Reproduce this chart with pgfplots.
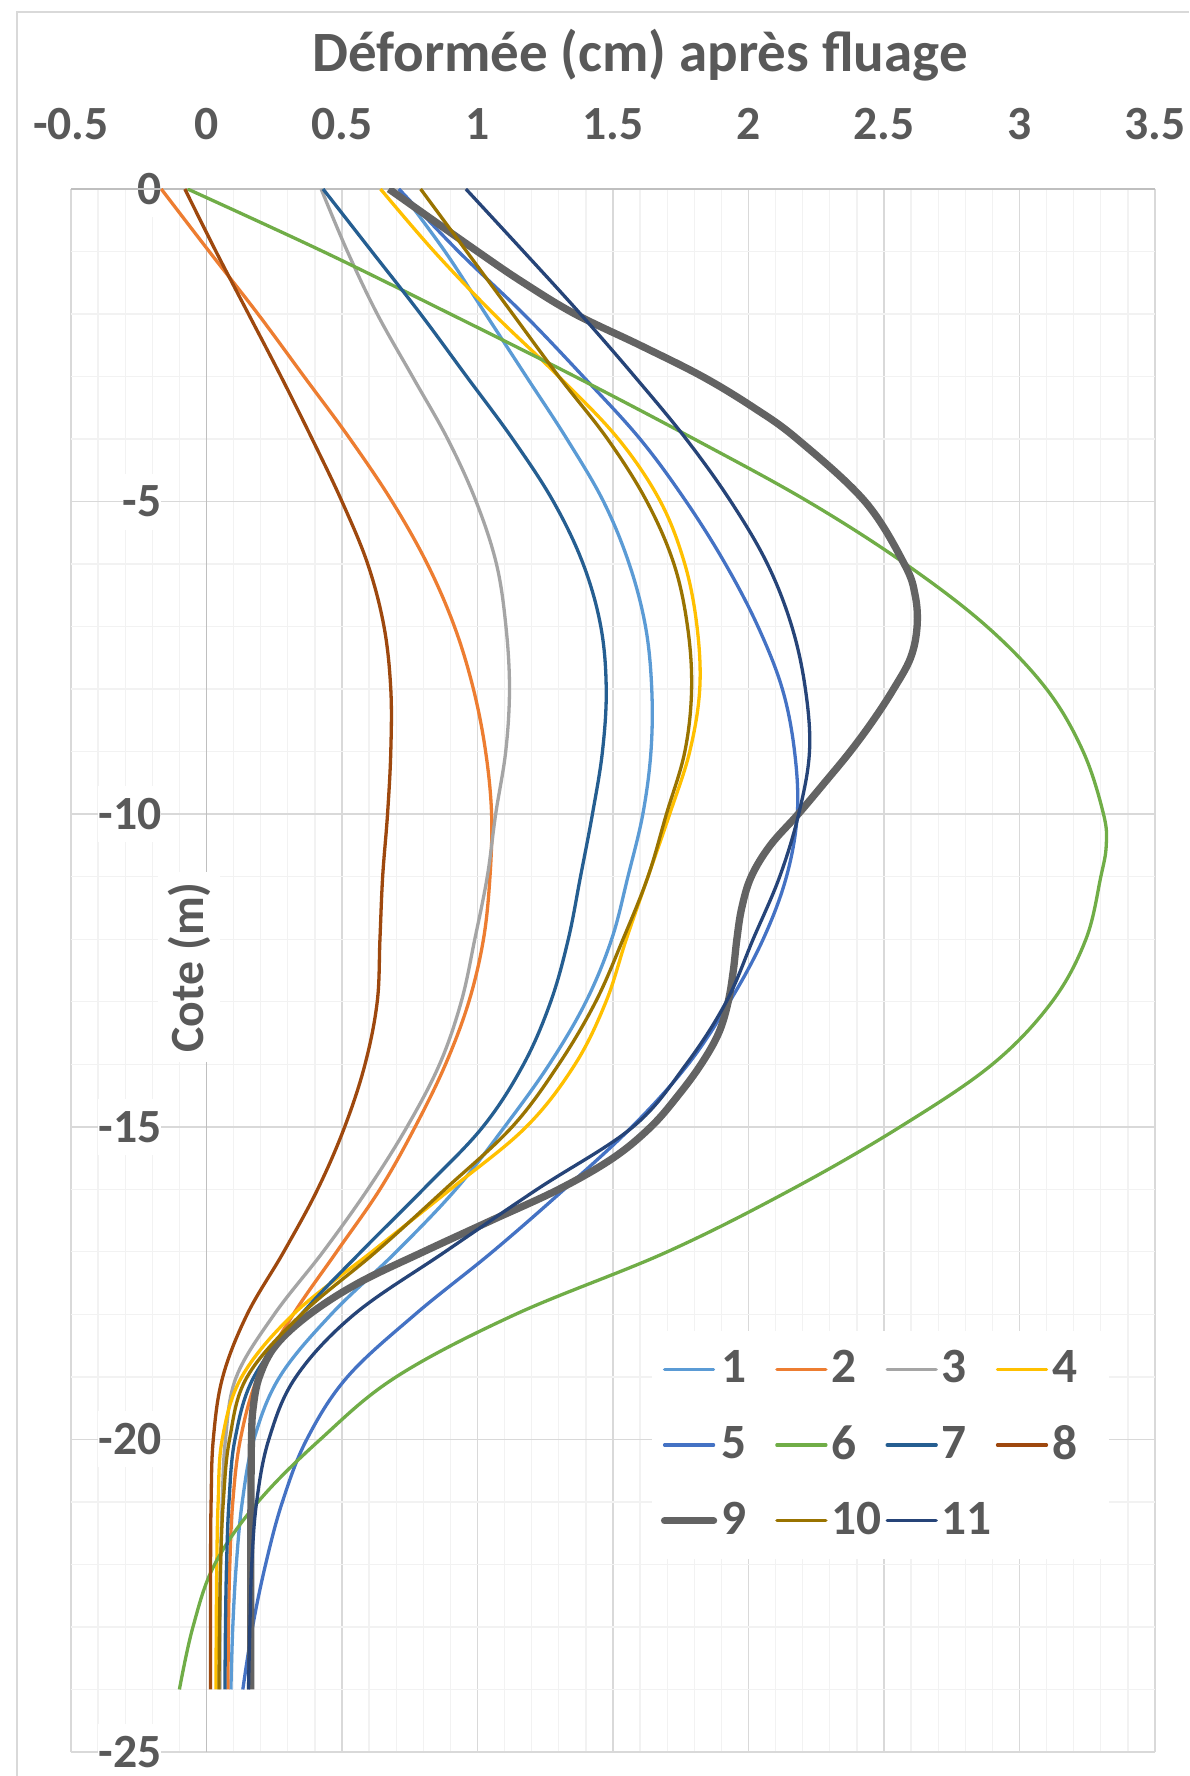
\documentclass[border=0pt]{standalone}
\usepackage{fontspec}
\setmainfont{Carlito}
\usepackage{pgfplots}
\pgfplotsset{compat=1.18}
\definecolor{s1}{HTML}{5B9BD5}
\definecolor{s2}{HTML}{ED7D31}
\definecolor{s3}{HTML}{A5A5A5}
\definecolor{s4}{HTML}{FFC000}
\definecolor{s5}{HTML}{4472C4}
\definecolor{s6}{HTML}{70AD47}
\definecolor{s7}{HTML}{255E91}
\definecolor{s8}{HTML}{9E480E}
\definecolor{s9}{HTML}{636363}
\definecolor{s10}{HTML}{997300}
\definecolor{s11}{HTML}{264478}
\definecolor{labelgray}{HTML}{595959}
\definecolor{gridmaj}{HTML}{D9D9D9}
\definecolor{gridmin}{HTML}{F2F2F2}
\definecolor{axisline}{HTML}{BFBFBF}
\newlength{\unitpx}\setlength{\unitpx}{0.3pt}
\newcommand{\lbox}[1]{\makebox[48\unitpx][l]{#1}}
\pgfplotsset{curve/.style={smooth, tension=0.6, line width=3.3\unitpx, line join=round}}
\begin{document}
\begin{tikzpicture}
\path[use as bounding box, fill=white] (0,0) rectangle (1189\unitpx,1776\unitpx);
\draw[gridmaj, line width=1.5\unitpx] (17\unitpx,0) -- (17\unitpx,1764\unitpx) -- (1189\unitpx,1764\unitpx);
\node[anchor=base, inner sep=0pt, font=\bfseries\fontsize{17.1pt}{20pt}\selectfont, text=labelgray] at (640\unitpx,1704\unitpx) {Déformée (cm) après fluage};
\begin{axis}[
  at={(71\unitpx,24\unitpx)}, anchor=south west,
  scale only axis, width=1084\unitpx, height=1563\unitpx,
  xmin=-0.5, xmax=3.5, ymin=-25, ymax=0,
  xtick={-0.5,0,0.5,1,1.5,2,2.5,3,3.5},
  xticklabels={-0.5,0,0.5,1,1.5,2,2.5,3,3.5},
  ytick={-25,-20,-15,-10,-5,0},
  yticklabels={-25,-20,-15,-10,-5,0},
  minor x tick num=4, minor y tick num=4,
  grid=both,
  major grid style={color=gridmaj, line width=1.7\unitpx},
  minor grid style={color=gridmin, line width=1.3\unitpx},
  axis line style={draw=none},
  tick style={draw=none},
  xticklabel pos=upper,
  ticklabel style={font=\bfseries\fontsize{14.3pt}{17pt}\selectfont, text=labelgray},
  xticklabel style={anchor=base, inner sep=0pt, yshift=49\unitpx},
  yticklabel style={anchor=east, inner sep=0pt, fill=white, minimum height=56\unitpx, xshift=91\unitpx},
  ylabel={Cote (m)},
  ylabel style={at={(axis description cs:0.1089,0.502)}, anchor=center, fill=white, inner sep=10\unitpx, font=\bfseries\fontsize{14.3pt}{17pt}\selectfont, text=labelgray},
  no markers,
  legend columns=4,
  legend cell align=left,
  legend image code/.code={\draw[#1, line cap=round] (0pt,0pt) -- (14.7pt,0pt);},
  legend style={at={(axis description cs:0.7468,0.1964)}, anchor=center, draw=none, fill=white,
    inner xsep=9\unitpx, inner ysep=20\unitpx, row sep=37.5\unitpx,
    nodes={inner sep=0pt},
    font=\bfseries\fontsize{14.8pt}{17pt}\selectfont, text=labelgray,
    /tikz/every odd column/.append style={column sep=4\unitpx},
    /tikz/every even column/.append style={column sep=6\unitpx}},
]
\draw[axisline, line width=1.7\unitpx] (axis cs:0,-25) -- (axis cs:0,0);
\draw[axisline, line width=1.7\unitpx] (axis cs:-0.5,0) -- (axis cs:3.5,0);

% 1
\addplot[s1, curve] coordinates {(0.71,0) (0.88,-1) (1.03,-2) (1.18,-3) (1.33,-4) (1.465,-5) (1.56,-6) (1.62,-7) (1.643,-8) (1.64,-9) (1.61,-10) (1.555,-11) (1.495,-12) (1.40,-13) (1.265,-14) (1.10,-15) (0.92,-16) (0.70,-17) (0.46,-18) (0.27,-19) (0.175,-20) (0.132,-21) (0.11,-22) (0.097,-23) (0.09,-24)};
% 2
\addplot[s2, curve] coordinates {(-0.167,0) (0.01,-1) (0.19,-2) (0.36,-3) (0.53,-4) (0.685,-5) (0.815,-6) (0.915,-7) (0.985,-8) (1.03,-9) (1.052,-10) (1.046,-11) (1.022,-12) (0.968,-13) (0.882,-14) (0.77,-15) (0.64,-16) (0.48,-17) (0.32,-18) (0.19,-19) (0.125,-20) (0.097,-21) (0.086,-22) (0.081,-23) (0.079,-24)};
% 3
\addplot[s3, curve] coordinates {(0.423,0) (0.52,-1) (0.63,-2) (0.76,-3) (0.89,-4) (0.995,-5) (1.07,-6) (1.105,-7) (1.118,-8) (1.104,-9) (1.067,-10) (1.036,-11) (0.99,-12) (0.94,-13) (0.86,-14) (0.74,-15) (0.595,-16) (0.43,-17) (0.25,-18) (0.11,-19) (0.07,-20) (0.058,-21) (0.052,-22) (0.05,-23) (0.05,-24)};
% 4
\addplot[s4, curve] coordinates {(0.642,0) (0.84,-1) (1.06,-2) (1.30,-3) (1.52,-4) (1.675,-5) (1.765,-6) (1.81,-7) (1.82,-8) (1.783,-9) (1.709,-10) (1.629,-11) (1.549,-12) (1.474,-13) (1.36,-14) (1.18,-15) (0.90,-16) (0.61,-17) (0.32,-18) (0.13,-19) (0.058,-20) (0.043,-21) (0.038,-22) (0.036,-23) (0.035,-24)};
% 5
\addplot[s5, curve] coordinates {(0.71,0) (0.93,-1) (1.17,-2) (1.39,-3) (1.60,-4) (1.77,-5) (1.915,-6) (2.035,-7) (2.125,-8) (2.17,-9) (2.18,-10) (2.14,-11) (2.054,-12) (1.93,-13) (1.777,-14) (1.57,-15) (1.32,-16) (1.055,-17) (0.77,-18) (0.52,-19) (0.37,-20) (0.28,-21) (0.218,-22) (0.17,-23) (0.134,-24)};
% 6
\addplot[s6, curve] coordinates {(-0.07,0) (0.43,-1) (0.90,-2) (1.36,-3) (1.80,-4) (2.22,-5) (2.58,-6) (2.88,-7) (3.10,-8) (3.235,-9) (3.31,-10) (3.32,-10.5) (3.30,-11) (3.245,-12) (3.12,-13) (2.90,-14) (2.56,-15) (2.16,-16) (1.70,-17) (1.14,-18) (0.70,-19) (0.42,-20) (0.19,-21) (0.03,-22) (-0.05,-23) (-0.10,-24)};
% 7
\addplot[s7, curve] coordinates {(0.43,0) (0.61,-1) (0.79,-2) (0.96,-3) (1.13,-4) (1.28,-5) (1.39,-6) (1.455,-7) (1.475,-8) (1.461,-9) (1.424,-10) (1.38,-11) (1.335,-12) (1.27,-13) (1.17,-14) (1.02,-15) (0.80,-16) (0.57,-17) (0.35,-18) (0.175,-19) (0.105,-20) (0.083,-21) (0.074,-22) (0.07,-23) (0.068,-24)};
% 8
\addplot[s8, curve] coordinates {(-0.08,0) (0.035,-1) (0.155,-2) (0.275,-3) (0.39,-4) (0.50,-5) (0.595,-6) (0.655,-7) (0.68,-8) (0.68,-9) (0.668,-10) (0.65,-11) (0.64,-12) (0.63,-13) (0.585,-14) (0.51,-15) (0.41,-16) (0.285,-17) (0.15,-18) (0.06,-19) (0.025,-20) (0.017,-21) (0.015,-22) (0.015,-23) (0.015,-24)};
% 9
\addplot[s9, curve, line width=7.3\unitpx] coordinates {(0.673,0) (1.0,-1) (1.17,-1.5) (1.36,-2) (1.60,-2.5) (1.83,-3) (2.02,-3.5) (2.18,-4) (2.43,-5) (2.575,-6) (2.615,-6.5) (2.622,-7) (2.598,-7.5) (2.535,-8) (2.46,-8.5) (2.375,-9) (2.28,-9.5) (2.183,-10) (2.08,-10.5) (2.01,-11) (1.975,-11.5) (1.957,-12) (1.944,-12.5) (1.925,-13) (1.89,-13.5) (1.825,-14) (1.74,-14.5) (1.64,-15) (1.50,-15.5) (1.30,-16) (1.05,-16.5) (0.80,-17) (0.56,-17.5) (0.38,-18) (0.255,-18.5) (0.195,-19) (0.172,-19.5) (0.166,-20) (0.164,-21) (0.163,-22) (0.163,-23) (0.163,-24)};
% 10
\addplot[s10, curve] coordinates {(0.79,0) (0.96,-1) (1.13,-2) (1.30,-3) (1.48,-4) (1.625,-5) (1.725,-6) (1.775,-7) (1.79,-8) (1.765,-9) (1.697,-10) (1.629,-11) (1.537,-12) (1.436,-13) (1.30,-14) (1.128,-15) (0.88,-16) (0.625,-17) (0.35,-18) (0.15,-19) (0.085,-20) (0.062,-21) (0.052,-22) (0.048,-23) (0.046,-24)};
% 11
\addplot[s11, curve] coordinates {(0.957,0) (1.17,-1) (1.38,-2) (1.58,-3) (1.77,-4) (1.935,-5) (2.07,-6) (2.16,-7) (2.21,-8) (2.225,-9) (2.185,-10) (2.115,-11) (2.017,-12) (1.918,-13) (1.77,-14) (1.574,-15) (1.22,-16) (0.88,-17) (0.545,-18) (0.33,-19) (0.23,-20) (0.185,-21) (0.167,-22) (0.16,-23) (0.155,-24)};
\legend{\lbox{1},\lbox{2},\lbox{3},\lbox{4},\lbox{5},\lbox{6},\lbox{7},\lbox{8},\lbox{9},\lbox{10},\lbox{11}}
\end{axis}
\end{tikzpicture}
\end{document}
